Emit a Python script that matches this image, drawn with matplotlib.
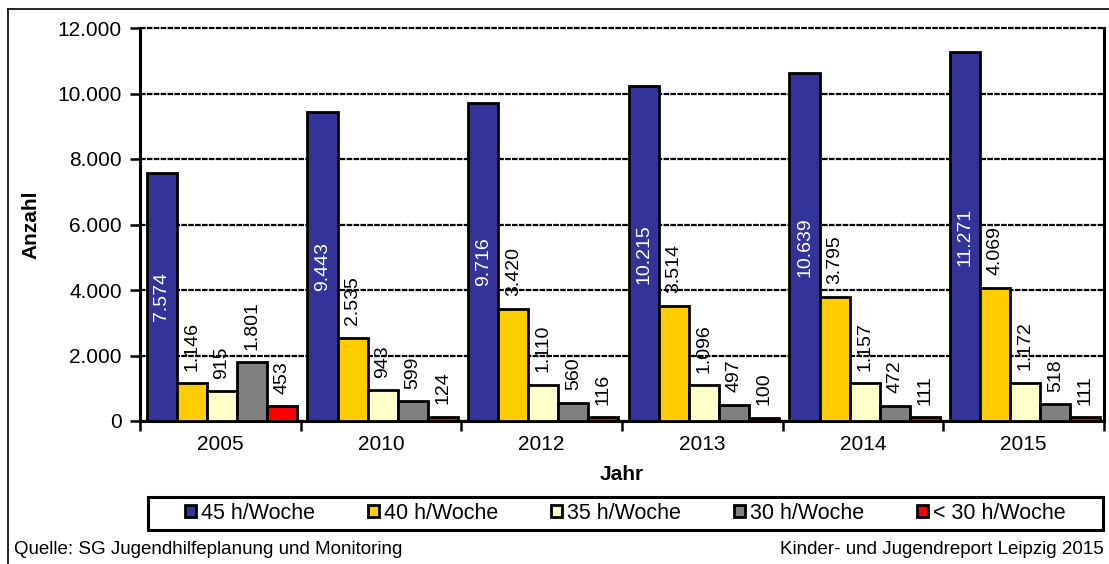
import matplotlib
matplotlib.use("Agg")
import matplotlib.pyplot as plt
import numpy as np
from matplotlib.lines import Line2D
from matplotlib.patches import Rectangle

plt.rcParams['font.family'] = ['Liberation Sans', 'DejaVu Sans']

years = ["2005", "2010", "2012", "2013", "2014", "2015"]
series_names = ["45 h/Woche", "40 h/Woche", "35 h/Woche", "30 h/Woche", "< 30 h/Woche"]
h45 = [7574, 9443, 9716, 10215, 10639, 11271]
h40 = [1146, 2535, 3420, 3514, 3795, 4069]
h35 = [915, 943, 1110, 1096, 1157, 1172]
h30 = [1801, 599, 560, 497, 472, 518]
hlt30 = [453, 124, 116, 100, 111, 111]
yticks = [0, 2000, 4000, 6000, 8000, 10000, 12000]
ytick_labels = ["0", "2.000", "4.000", "6.000", "8.000", "10.000", "12.000"]

series = [h45, h40, h35, h30, hlt30]
colors = ["#333399", "#FFCC00", "#FFFFCC", "#808080", "#FF0000"]

W, H = 1109, 564
fig = plt.figure(figsize=(W / 100, H / 100), dpi=100)
ax = fig.add_axes([140 / W, 1 - 421 / H, (1104 - 140) / W, (421 - 28) / H])

def fmt(v):
    return f"{v:,}".replace(",", ".")

x = np.arange(len(years))
bw = 0.187
handles = []
for j, (vals, col) in enumerate(zip(series, colors)):
    pos = x + (j - 2) * bw + 0.01
    bars = ax.bar(pos, vals, width=bw, color=col, edgecolor="black", linewidth=2, zorder=3)
    handles.append(bars)
    for p, v in zip(pos, vals):
        if j == 0:
            ax.text(p, v / 2, fmt(v), rotation=90, ha="center", va="center",
                    color="white", fontsize=14, zorder=4)
        else:
            ax.annotate(fmt(v), (p, v), xytext=(0, 9), textcoords="offset points",
                        rotation=90, ha="center", va="bottom", fontsize=14,
                        color="black", zorder=4)

ax.set_xlim(-0.5, len(years) - 0.5)
ax.set_ylim(0, 12000)
ax.set_yticks(yticks)
ax.set_yticklabels(ytick_labels, fontsize=15)
ax.set_xticks(x)
ax.set_xticklabels(years, fontsize=15)
ax.set_xticks(np.arange(-0.5, len(years)), minor=True)
ax.tick_params(axis="x", which="major", length=0, pad=10)
ax.tick_params(axis="x", which="minor", length=7, width=1.8, direction="out")
ax.tick_params(axis="y", length=7, width=1.8, pad=6)

ax.yaxis.grid(True, color="black", linestyle=(0, (2.5, 0.6)), linewidth=1.6)
for gl in ax.get_ygridlines():
    gl.set_clip_on(False)
ax.set_axisbelow(True)
for s in ["left", "bottom", "right"]:
    ax.spines[s].set_linewidth(2.2)
ax.spines["top"].set_visible(False)

ax.set_ylabel("Anzahl", fontsize=15, fontweight="bold", labelpad=12)
ax.set_xlabel("Jahr", fontsize=15, fontweight="bold", labelpad=8)

# legend frame and legend
fig.patches.append(Rectangle((148 / W, 1 - 530 / H), (1103 - 148) / W, 33 / H,
                             transform=fig.transFigure, fill=False,
                             edgecolor="black", linewidth=2.2))
fig.legend(handles, series_names, loc="center", ncol=5, frameon=False,
           bbox_to_anchor=((148 + 1103) / 2 / W, 1 - 513.5 / H),
           fontsize=15.5, handlelength=0.5, handleheight=0.5,
           handletextpad=0.25, columnspacing=2.45, borderpad=0)

# outer border lines
fig.add_artist(Line2D([8 / W, 8 / W], [0, 1 - 9 / H], transform=fig.transFigure,
                      color="black", linewidth=1.2))
fig.add_artist(Line2D([8 / W, 1], [1 - 9 / H, 1 - 9 / H], transform=fig.transFigure,
                      color="black", linewidth=1.2))

fig.text(14 / W, 1 - 549 / H, "Quelle: SG Jugendhilfeplanung und Monitoring",
         fontsize=13.5, ha="left", va="center")
fig.text(1104 / W, 1 - 549 / H, "Kinder- und Jugendreport Leipzig 2015",
         fontsize=13.5, ha="right", va="center")

fig.savefig("out.png", dpi=100)
